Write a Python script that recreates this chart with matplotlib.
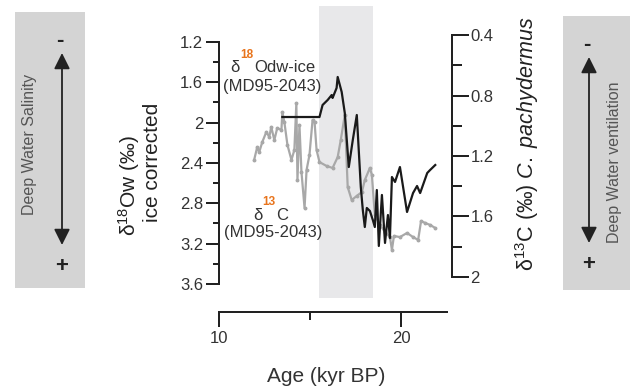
import numpy as np
import matplotlib
matplotlib.use("Agg")
import matplotlib.pyplot as plt

plt.rcParams['font.family'] = ['Liberation Sans', 'DejaVu Sans']
plt.rcParams['mathtext.fontset'] = 'custom'
plt.rcParams['mathtext.rm'] = 'Liberation Sans'
plt.rcParams['mathtext.it'] = 'Liberation Sans:italic'

# black: d18O dw-ice (left axis)
age_o18 = [13.48, 15.52, 15.69, 15.97, 16.19, 16.24, 16.46, 16.52, 16.74, 16.91,
           17.13, 17.35, 17.57, 17.79, 17.90, 18.01, 18.12, 18.29, 18.45, 18.56,
           18.67, 18.78, 18.95, 19.12, 19.28, 19.39, 19.50, 19.67, 19.94, 20.33,
           20.66, 20.88, 21.05, 21.44, 21.60, 21.88]
o18 = [1.944, 1.944, 1.825, 1.775, 1.726, 1.755, 1.656, 1.547, 1.696, 1.904,
       2.440, 2.172, 1.924, 2.638, 2.866, 3.035, 2.846, 2.876, 2.965, 3.035,
       2.668, 3.223, 2.717, 3.193, 2.916, 3.144, 2.539, 2.588, 2.440, 2.886,
       2.698, 2.628, 2.698, 2.499, 2.469, 2.420]

# gray: d13C C. pachydermus (right axis)
age_c13 = [11.93, 12.10, 12.21, 12.38, 12.60, 12.76, 12.87, 13.04, 13.20, 13.43,
           13.48, 13.59, 13.76, 13.98, 14.14, 14.25, 14.31, 14.42, 14.53, 14.70,
           14.81, 14.97, 15.14, 15.25, 15.36, 15.52, 15.91, 16.24, 16.52, 16.69,
           16.91, 17.07, 17.29, 17.57, 17.85, 18.01, 18.29, 18.40, 18.56, 18.84,
           19.12, 19.39, 19.50, 19.61, 19.94, 20.33, 20.66, 20.94, 21.10, 21.33,
           21.60, 21.88]
c13 = [1.226, 1.141, 1.174, 1.107, 1.041, 1.074, 1.008, 1.094, 1.015, 1.028,
       0.909, 0.975, 1.127, 1.226, 1.160, 0.850, 1.359, 0.995, 1.306, 1.544,
       1.293, 1.193, 0.962, 0.975, 1.160, 1.240, 1.266, 1.279, 1.207, 1.094,
       0.929, 1.405, 1.491, 1.464, 1.438, 1.359, 1.279, 1.326, 1.590, 1.656,
       1.702, 1.736, 1.821, 1.729, 1.736, 1.709, 1.736, 1.755, 1.630, 1.643,
       1.656, 1.676]

shade = (15.5, 18.45)
left_ticks = [1.2, 1.6, 2.0, 2.4, 2.8, 3.2, 3.6]
left_labels = ['1.2', '1.6', '2', '2.4', '2.8', '3.2', '3.6']
right_ticks = [0.4, 0.8, 1.2, 1.6, 2.0]
right_labels = ['0.4', '0.8', '1.2', '1.6', '2']

W, H = 630, 387
fig = plt.figure(figsize=(6.3, 3.87), dpi=100)

def fx(px):
    return px / W

def fy(py):
    return 1 - py / H

PT = 0.72  # px -> pt at 100 dpi

ax = fig.add_axes([fx(219), fy(298), fx(452) - fx(219), fy(6) - fy(298)])
ax2 = ax.twinx()
ax.set_zorder(ax2.get_zorder() + 1)
ax.patch.set_visible(False)

ax.set_xlim(10, 22.8)
ax.set_ylim(3.739, 0.843)
ax2.set_ylim(2.139, 0.208)

ax2.axvspan(shade[0], shade[1], color='#e8e8ea', lw=0, zorder=0)
ax2.plot(age_c13, c13, color='#a8a8a8', lw=1.6, marker='o', ms=1.8, zorder=2)
ax.plot(age_o18, o18, color='#1a1a1a', lw=1.6, zorder=3)

for a in (ax, ax2):
    a.spines['top'].set_visible(False)
ax.spines['right'].set_visible(False)
ax2.spines['left'].set_visible(False)
ax2.spines['bottom'].set_visible(False)

lw = 2 * PT
ax.spines['left'].set_bounds(1.2, 3.6)
ax.spines['left'].set_linewidth(lw)
ax.spines['left'].set_color('#222222')
ax2.spines['right'].set_bounds(0.4, 2.0)
ax2.spines['right'].set_linewidth(lw)
ax2.spines['right'].set_color('#222222')
ax.spines['bottom'].set_bounds(10, 22.5)
ax.spines['bottom'].set_position(('outward', 14 * PT))
ax.spines['bottom'].set_linewidth(lw)
ax.spines['bottom'].set_color('#222222')

ax.set_yticks(left_ticks)
ax.set_yticklabels(left_labels)
ax.set_yticks([1.4, 1.8, 2.2, 2.6, 3.0, 3.4], minor=True)
ax.tick_params(axis='y', which='major', length=13 * PT, width=lw, pad=2,
               labelsize=12, colors='#222222', labelcolor='#333333')
ax.tick_params(axis='y', which='minor', length=6 * PT, width=lw, colors='#222222')

ax.set_xticks([10, 20])
ax.set_xticklabels(['10', '20'])
ax.set_xticks([15], minor=True)
ax.tick_params(axis='x', which='major', length=15 * PT, width=lw, pad=3,
               labelsize=12, colors='#222222', labelcolor='#333333')
ax.tick_params(axis='x', which='minor', length=8 * PT, width=lw, colors='#222222')
ax2.tick_params(axis='x', which='both', bottom=False, labelbottom=False)

ax2.set_yticks(right_ticks)
ax2.set_yticklabels(right_labels)
ax2.set_yticks([0.6, 1.0, 1.4, 1.8], minor=True)
ax2.tick_params(axis='y', which='major', length=17 * PT, width=lw, pad=1,
                labelsize=12, colors='#222222', labelcolor='#333333')
ax2.tick_params(axis='y', which='minor', length=10 * PT, width=lw, colors='#222222')

# axis labels
fig.text(fx(326), fy(376), 'Age (kyr BP)', fontsize=15, color='#333333',
         ha='center', va='center')
fig.text(fx(129), fy(185), r'δ$^{18}$Ow (‰)', fontsize=15, color='#222222',
         ha='center', va='center', rotation=90)
fig.text(fx(153), fy(162), 'ice corrected', fontsize=15, color='#222222',
         ha='center', va='center', rotation=90)
fig.text(fx(527), fy(144), r'δ$^{13}$C (‰) $\mathit{C.\ pachydermus}$', fontsize=15.5,
         color='#222222', ha='center', va='center', rotation=90)

# in-plot annotations
orange = '#e8741c'
fig.text(fx(230), fy(68), 'δ', fontsize=12, color='#333333', ha='left', va='center')
fig.text(fx(240), fy(55), '18', fontsize=8.5, color=orange, ha='left', va='center',
         fontweight='bold')
fig.text(fx(254), fy(68), 'Odw-ice', fontsize=12, color='#333333', ha='left', va='center')
fig.text(fx(272), fy(86), '(MD95-2043)', fontsize=12, color='#333333', ha='center', va='center')
fig.text(fx(253), fy(215), 'δ', fontsize=12, color='#333333', ha='left', va='center')
fig.text(fx(262), fy(202), '13', fontsize=8.5, color=orange, ha='left', va='center',
         fontweight='bold')
fig.text(fx(276), fy(215), 'C', fontsize=12, color='#333333', ha='left', va='center')
fig.text(fx(273), fy(233), '(MD95-2043)', fontsize=12, color='#333333', ha='center', va='center')

# side boxes
def side_box(x0, x1, y0, y1, xarrow, ya, yb, label, xlabel, ylabel):
    b = fig.add_axes([fx(x0), fy(y1), fx(x1) - fx(x0), fy(y0) - fy(y1)])
    b.set_xlim(x0, x1)
    b.set_ylim(y1, y0)
    b.set_facecolor('#d4d4d4')
    for s in b.spines.values():
        s.set_visible(False)
    b.set_xticks([])
    b.set_yticks([])
    b.annotate('', xy=(xarrow, ya), xytext=(xarrow, yb),
               arrowprops=dict(arrowstyle='<|-|>', color='#222222', lw=1.3,
                               mutation_scale=24, shrinkA=0, shrinkB=0))
    b.text(xarrow - 2, ya - 13, '-', fontsize=16, color='#222222', ha='center',
           va='center', fontweight='bold')
    b.text(xarrow, yb + 22, '+', fontsize=16, color='#222222', ha='center',
           va='center', fontweight='bold')
    b.text(xlabel, ylabel, label, fontsize=11.5, color='#555555', rotation=90,
           ha='center', va='center')

side_box(15, 85, 12, 288, 62, 53, 245, 'Deep Water Salinity', 30, 144)
side_box(563, 630, 16, 290, 589, 57, 243, 'Deep Water ventilation', 615, 162)

fig.savefig('out.png', dpi=100)
